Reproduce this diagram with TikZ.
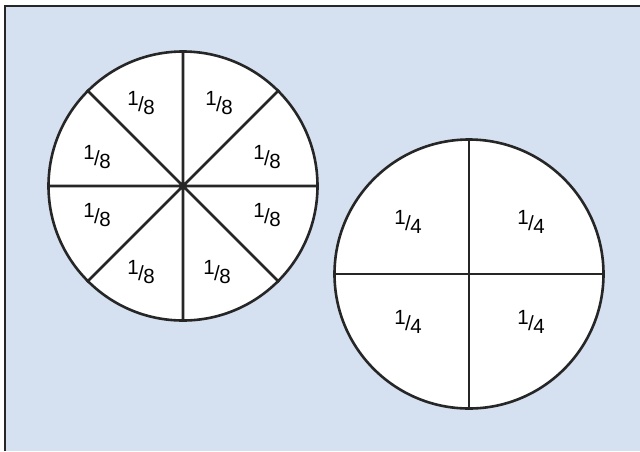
\documentclass[tikz,border=0pt]{standalone}
\usepackage{fontspec}
\setmainfont{Liberation Sans}
\definecolor{panelblue}{RGB}{213,225,240}
\tikzset{
  pie disc/.style={
    circle,draw=black!85,fill=white,line width=2.6pt,
    minimum size=269pt,inner sep=0pt
  },
  pie cut/.style={black!85,line width=2.6pt},
  pie part/.style={font=\fontsize{20.5}{22}\selectfont,inner sep=0pt}
}
\newcommand{\fracpart}[2]{%
  \raisebox{0.3em}{#1}\kern-0.03em/\kern-0.02em\raisebox{-0.14em}{#2}%
}
\begin{document}
\begin{tikzpicture}[x=1pt,y=-1pt]
  \useasboundingbox (0,0) rectangle (640,451);
  \fill[panelblue] (5,6) rectangle (640,451);
  \draw[black!85,line width=2.2pt] (5,451)--(5,6)--(640,6);
  % eighths
  \node[pie disc] (eighths) at (183,186) {};
  \draw[pie cut] (eighths.0)--(eighths.180) (eighths.90)--(eighths.270)
    (eighths.45)--(eighths.225) (eighths.135)--(eighths.315);
  \node[pie part] (e1) at (141,103) {\fracpart{1}{8}};
  \node[pie part] (e2) at (219,103) {\fracpart{1}{8}};
  \node[pie part] (e3) at (97,157) {\fracpart{1}{8}};
  \node[pie part] (e4) at (267,157) {\fracpart{1}{8}};
  \node[pie part] (e5) at (97,215) {\fracpart{1}{8}};
  \node[pie part] (e6) at (267,215) {\fracpart{1}{8}};
  \node[pie part] (e7) at (141,272) {\fracpart{1}{8}};
  \node[pie part] (e8) at (217,272) {\fracpart{1}{8}};
  % quarters
  \node[pie disc] (quarters) at (469,274) {};
  \draw[pie cut] (quarters.0)--(quarters.180) (quarters.90)--(quarters.270);
  \node[pie part] (q1) at (408,222) {\fracpart{1}{4}};
  \node[pie part] (q2) at (531,222) {\fracpart{1}{4}};
  \node[pie part] (q3) at (408,322) {\fracpart{1}{4}};
  \node[pie part] (q4) at (531,322) {\fracpart{1}{4}};
\end{tikzpicture}
\end{document}
